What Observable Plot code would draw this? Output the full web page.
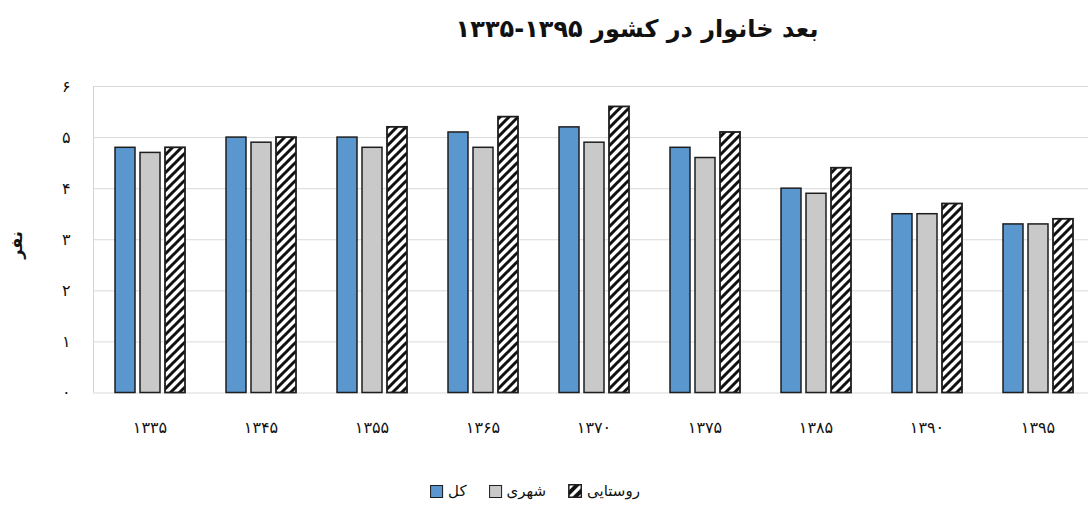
<!DOCTYPE html>
<html><head><meta charset="utf-8">
<script src="https://cdn.jsdelivr.net/npm/d3@7"></script>
<script src="https://cdn.jsdelivr.net/npm/@observablehq/plot@0.6"></script>
<style>
html,body{margin:0;padding:0;background:#fff;overflow:hidden;width:1088px;height:506px;}
#wrap{position:relative;width:1088px;height:506px;font-family:"DejaVu Sans",sans-serif;color:#111;overflow:hidden;}
.abs{position:absolute;}
#title{top:15px;left:637px;transform:translateX(-50%);font-size:24px;font-weight:bold;white-space:nowrap;direction:rtl;}
#ylab{left:16px;top:245px;transform:translate(-50%,-50%) rotate(-90deg);font-weight:bold;font-size:16px;direction:rtl;white-space:nowrap;}
#plots{left:0;top:56px;width:1094px;height:400px;}
#plots svg{position:absolute;left:0;top:0;}
#legend{top:482px;left:535px;transform:translateX(-50%);display:flex;align-items:center;gap:22px;font-size:15px;white-space:nowrap;}
.item{display:flex;align-items:center;gap:5px;}
.sw{width:11px;height:11px;border:1.5px solid #1e1e1e;display:inline-block;}
</style></head>
<body>
<div id="wrap">
  <div id="title" class="abs">بعد خانوار در کشور ۱۳۹۵-۱۳۳۵</div>
  <div id="ylab" class="abs">نفر</div>
  <div id="plots" class="abs"></div>
  <div id="legend" class="abs"></div>
</div>
<script>
// ---- data ----
const years = ["۱۳۳۵","۱۳۴۵","۱۳۵۵","۱۳۶۵","۱۳۷۰","۱۳۷۵","۱۳۸۵","۱۳۹۰","۱۳۹۵"];
const series = ["کل","شهری","روستایی"];
const total = [4.8, 5.0, 5.0, 5.1, 5.2, 4.8, 4.0, 3.5, 3.3];
const urban = [4.7, 4.9, 4.8, 4.8, 4.9, 4.6, 3.9, 3.5, 3.3];
const rural = [4.8, 5.0, 5.2, 5.4, 5.6, 5.1, 4.4, 3.7, 3.4];
const yTicks = [0, 1, 2, 3, 4, 5, 6];

const colors = ["#5b97cf", "#c9c9c9", "url(#hatch)"];
const values = [total, urban, rural];
const rows = years.flatMap((yr, i) => series.map((s, j) => ({year: yr, series: s, value: values[j][i]})));
const fa = d => String(d).replace(/\d/g, c => "۰۱۲۳۴۵۶۷۸۹"[+c]);

const W = 1094, H = 400, MT = 30, MB = 63.5, ML = 93, MR = 0;

const bg = Plot.plot({
  width: W, height: H, marginTop: MT, marginBottom: MB, marginLeft: ML, marginRight: MR,
  style: {fontFamily: "DejaVu Sans", background: "transparent", color: "#111"},
  x: {domain: [0, 1], axis: null},
  y: {domain: [0, 6], axis: null},
  marks: [
    Plot.gridY(yTicks, {stroke: "#d9d9d9", strokeOpacity: 1, strokeWidth: 1}),
    Plot.ruleX([0], {stroke: "#d4d4d4", strokeWidth: 1}),
    Plot.axisY(yTicks, {tickSize: 0, tickPadding: 23, fontSize: 16, tickFormat: fa, label: null})
  ]
});

const fg = Plot.plot({
  width: W, height: H, marginTop: MT, marginBottom: MB, marginLeft: ML, marginRight: MR,
  style: {fontFamily: "DejaVu Sans", background: "transparent", color: "#111", overflow: "visible"},
  fx: {domain: years, paddingInner: 0.36, paddingOuter: 0.18, label: null},
  x: {domain: series, paddingInner: 0.2, paddingOuter: 0, axis: null},
  y: {domain: [0, 6], axis: null},
  marks: [
    ...series.map((s, j) => Plot.barY(rows.filter(d => d.series === s), {
      fx: "year", x: "series", y: "value", fill: colors[j], stroke: "#1e1e1e", strokeWidth: j === 2 ? 1.8 : 1.5
    })),
    Plot.axisFx({anchor: "bottom", tickSize: 0, tickPadding: 29, fontSize: 16, label: null})
  ]
});

d3.select(fg).insert("defs", ":first-child").html(
  `<pattern id="hatch" patternUnits="userSpaceOnUse" width="9" height="9">
     <rect width="9" height="9" fill="#fff"/>
     <path d="M-2,2 L2,-2 M0,9 L9,0 M7,11 L11,7" stroke="#111" stroke-width="3"/>
   </pattern>`);

const plots = document.getElementById("plots");
plots.appendChild(bg);
plots.appendChild(fg);

// ---- legend ----
const legend = d3.select("#legend");
series.forEach((s, j) => {
  const it = legend.append("div").attr("class", "item");
  if (j < 2) {
    it.append("span").attr("class", "sw").style("background", colors[j]);
  } else {
    it.append("span").html(`<svg width="14" height="14" style="display:block">
      <defs><pattern id="hatchL" patternUnits="userSpaceOnUse" width="10" height="10">
      <rect width="10" height="10" fill="#fff"/>
      <path d="M-3,3 L3,-3 M0,10 L10,0 M7,13 L13,7" stroke="#111" stroke-width="4"/></pattern></defs>
      <rect x="0.75" y="0.75" width="12.5" height="12.5" fill="url(#hatchL)" stroke="#1e1e1e" stroke-width="1.5"/></svg>`);
  }
  it.append("span").attr("dir", "rtl").text(s);
});
</script>
</body></html>
